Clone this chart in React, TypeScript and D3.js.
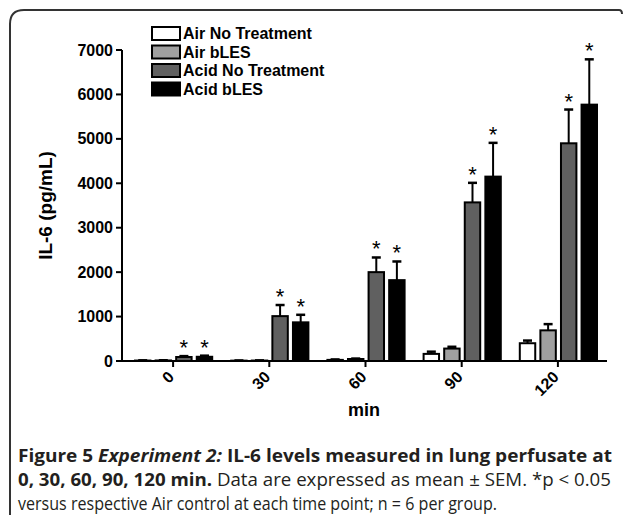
import React from "react";
import * as d3 from "d3";

const timePoints = ["0", "30", "60", "90", "120"];
const seriesNames = ["Air No Treatment", "Air bLES", "Acid No Treatment", "Acid bLES"];
const seriesColors = ["#ffffff", "#a0a0a0", "#606060", "#000000"];
const airNoTreatment = [10, 8, 25, 160, 400];
const airNoTreatmentErr = [5, 4, 10, 50, 60];
const airBLES = [12, 10, 45, 280, 690];
const airBLESErr = [5, 4, 10, 40, 140];
const acidNoTreatment = [90, 1010, 2000, 3570, 4900];
const acidNoTreatmentErr = [20, 250, 330, 440, 760];
const acidBLES = [95, 870, 1820, 4150, 5770];
const acidBLESErr = [25, 170, 420, 760, 1020];
const significant = [
  [false, false, false, false, false],
  [false, false, false, false, false],
  [true, true, true, true, true],
  [true, true, true, true, true],
];
const yTicks = [0, 1000, 2000, 3000, 4000, 5000, 6000, 7000];

const W = 627;
const H = 515;

export default function App() {
  const values = [airNoTreatment, airBLES, acidNoTreatment, acidBLES];
  const errs = [airNoTreatmentErr, airBLESErr, acidNoTreatmentErr, acidBLESErr];
  const x = d3.scaleBand<string>().domain(timePoints).range([125, 606]).padding(0);
  const xi = d3
    .scaleBand<string>()
    .domain(seriesNames)
    .range([10, x.bandwidth() - 9])
    .paddingInner(0.25)
    .paddingOuter(0);
  const y = d3.scaleLinear().domain([0, 7000]).range([361, 50]);
  const axisX = 122;
  const font = "'Liberation Sans', Arial, sans-serif";
  const capFont = "'Open Sans', sans-serif";

  return (
    <svg
      width={W}
      height={H}
      style={{ position: "absolute", left: 0, top: 0, background: "#fff" }}
    >
      <rect x={0} y={0} width={W} height={H} fill="#fff" />
      {/* frame */}
      <path
        d="M10,515 L10,24 Q10,10 24,10 L619,10 Q622,10 622,14"
        fill="none"
        stroke="#333"
        strokeWidth={2}
      />
      {/* bars */}
      {seriesNames.map((s, si) =>
        timePoints.map((t, ti) => {
          const bx = (x(t) as number) + (xi(s) as number);
          const bw = xi.bandwidth();
          const v = values[si][ti];
          const e = errs[si][ti];
          const top = y(v);
          const et = y(v + e);
          const cx = bx + bw / 2;
          return (
            <g key={s + t}>
              <line x1={cx} x2={cx} y1={top} y2={et} stroke="#000" strokeWidth={2} />
              <line x1={cx - 4.5} x2={cx + 4.5} y1={et} y2={et} stroke="#000" strokeWidth={2.5} />
              <rect
                x={bx}
                y={top}
                width={bw}
                height={y(0) - top}
                fill={seriesColors[si]}
                stroke="#000"
                strokeWidth={2}
              />
              {significant[si][ti] && (
                <text
                  x={cx}
                  y={et - 1}
                  textAnchor="middle"
                  fontFamily={font}
                  fontSize={22}
                  fill="#000"
                >
                  *
                </text>
              )}
            </g>
          );
        })
      )}
      {/* y axis */}
      <line x1={axisX} x2={axisX} y1={y(7000)} y2={y(0)} stroke="#000" strokeWidth={2} />
      {yTicks.map((t) => (
        <g key={t}>
          <line x1={axisX - 6} x2={axisX} y1={y(t)} y2={y(t)} stroke="#000" strokeWidth={2} />
          <text
            x={axisX - 9}
            y={y(t) + 5.5}
            textAnchor="end"
            fontFamily={font}
            fontWeight="bold"
            fontSize={16}
          >
            {t}
          </text>
        </g>
      ))}
      {/* x axis */}
      <line x1={axisX} x2={607} y1={y(0)} y2={y(0)} stroke="#000" strokeWidth={2} />
      {timePoints.map((t) => {
        const cx = (x(t) as number) + x.bandwidth() / 2;
        return (
          <g key={t}>
            <line x1={cx} x2={cx} y1={y(0)} y2={y(0) + 6} stroke="#000" strokeWidth={2} />
            <text
              transform={`translate(${cx + 2},${y(0) + 17}) rotate(-45)`}
              textAnchor="end"
              fontFamily={font}
              fontWeight="bold"
              fontSize={16}
            >
              {t}
            </text>
          </g>
        );
      })}
      {/* axis titles */}
      <text
        transform={`translate(52,${(y(0) + y(7000)) / 2}) rotate(-90)`}
        textAnchor="middle"
        fontFamily={font}
        fontWeight="bold"
        fontSize={19}
      >
        IL-6 (pg/mL)
      </text>
      <text
        x={364}
        y={416}
        textAnchor="middle"
        fontFamily={font}
        fontWeight="bold"
        fontSize={18}
      >
        min
      </text>
      {/* legend */}
      {seriesNames.map((s, i) => (
        <g key={s} transform={`translate(152,${27 + i * 18.5})`}>
          <rect x={0} y={0} width={28} height={13} fill={seriesColors[i]} stroke="#000" strokeWidth={2} />
          <text x={31} y={12} fontFamily={font} fontWeight="bold" fontSize={16}>
            {s}
          </text>
        </g>
      ))}
      {/* caption */}
      <text
        x={18}
        y={462}
        fontFamily={capFont}
        fontSize={18}
        fill="#231f20"
        textLength={594}
        lengthAdjust="spacingAndGlyphs"
      >
        <tspan fontWeight="bold">Figure 5 </tspan>
        <tspan fontWeight="bold" fontStyle="italic">Experiment 2:</tspan>
        <tspan fontWeight="bold"> IL-6 levels measured in lung perfusate at</tspan>
      </text>
      <text
        x={18}
        y={486}
        fontFamily={capFont}
        fontSize={18}
        fill="#231f20"
        textLength={593}
        lengthAdjust="spacingAndGlyphs"
      >
        <tspan fontWeight="bold">0, 30, 60, 90, 120 min.</tspan>
        <tspan> Data are expressed as mean ± SEM. *p &lt; 0.05</tspan>
      </text>
      <text
        x={18}
        y={510}
        fontFamily={capFont}
        fontSize={18}
        fill="#231f20"
        textLength={479}
        lengthAdjust="spacingAndGlyphs"
      >
        versus respective Air control at each time point; n = 6 per group.
      </text>
    </svg>
  );
}
